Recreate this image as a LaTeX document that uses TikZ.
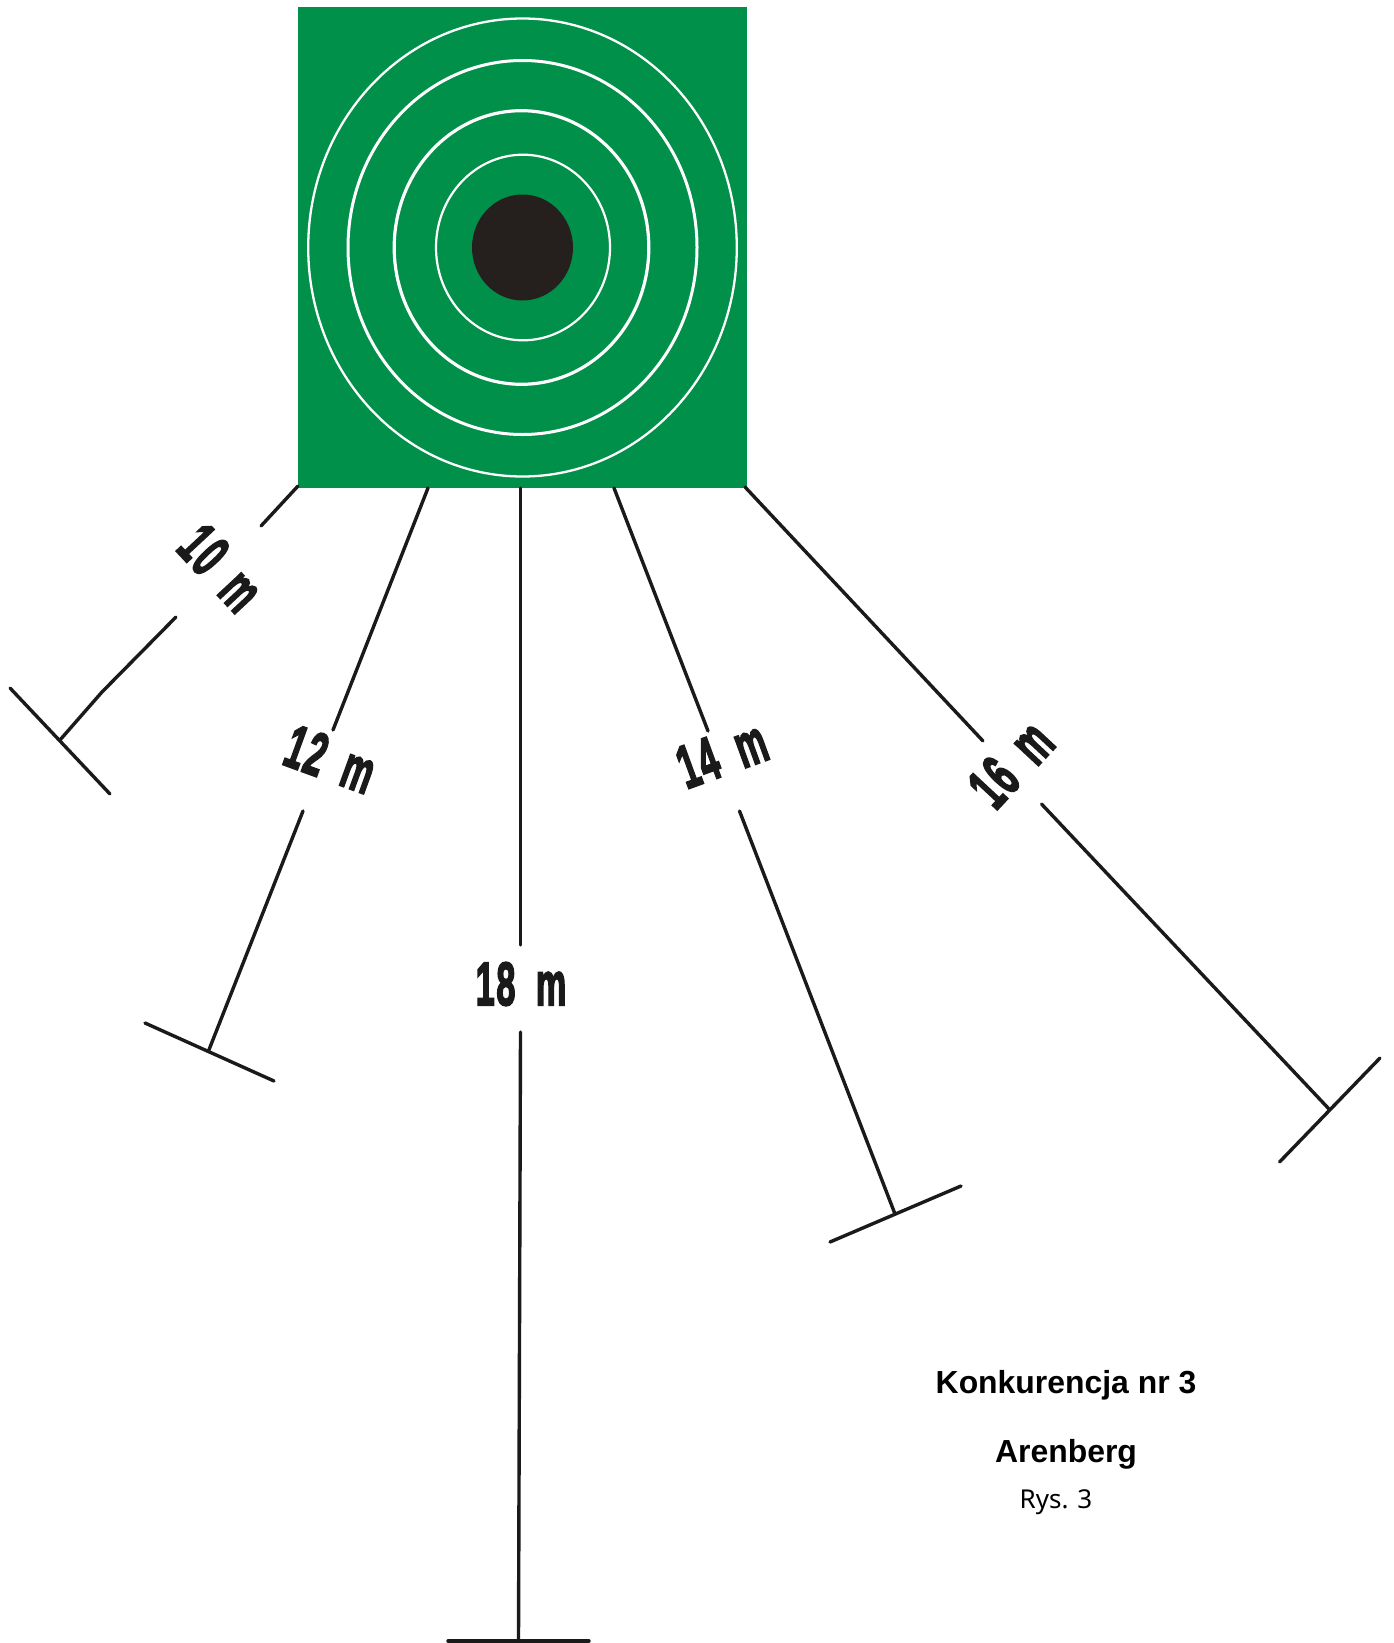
\documentclass[tikz,border=0pt]{standalone}
\usepackage{fontspec}
\setmainfont{Liberation Sans}
\newfontfamily\distfont[FakeBold=3.5]{Liberation Sans Bold}
\newfontfamily\rysfont{Noto Sans}
\definecolor{targetgreen}{HTML}{00904A}
\definecolor{inkdark}{HTML}{1A1A1B}
\definecolor{bulldark}{HTML}{25201D}
\tikzset{
  x=1pt,y=-1pt,
  lane/.style={draw=inkdark,line width=3.4pt,line cap=round,line join=round},
  ring/.style={draw=white,fill=none},
  dist/.style={text=inkdark,inner sep=0pt,font=\distfont\fontsize{61pt}{61pt}\selectfont},
  heading/.style={text=black,inner sep=0pt,anchor=base,font=\bfseries\fontsize{31.9pt}{32pt}\selectfont},
}
\begin{document}
\begin{tikzpicture}
\useasboundingbox (0,0) rectangle (1394,1643);
\fill[white] (0,0) rectangle (1394,1643);
% target
\node[fill=targetgreen,minimum width=449pt,minimum height=480pt,inner sep=0pt] (target) at (522.5,247.5) {};
\draw[ring,line width=2.3pt] (target.center) ellipse [x radius=214.3,y radius=229];
\draw[ring,line width=3pt] (target.center) ellipse [x radius=174.5,y radius=187];
\draw[ring,line width=3.2pt] ([xshift=-1pt]target.center) ellipse [x radius=127.3,y radius=136.8];
\draw[ring,line width=2.2pt] ([xshift=.5pt]target.center) ellipse [x radius=87,y radius=92.8];
\fill[bulldark] (target.center) ellipse [x radius=50.5,y radius=53];
% anchors
\coordinate (a10) at (298,486);
\coordinate (b10) at (261,526);
\coordinate (c10) at (176,617);
\coordinate (k10) at (102,692);
\coordinate (d10) at (60,740);
\coordinate (e10) at (10,688);
\coordinate (f10) at (110,794);
\coordinate (a12) at (428,488);
\coordinate (b12) at (333,730);
\coordinate (c12) at (303,811);
\coordinate (d12) at (208.5,1051);
\coordinate (e12) at (145,1023);
\coordinate (f12) at (274,1081);
\coordinate (a18) at (520.5,488);
\coordinate (b18) at (520.5,945);
\coordinate (c18) at (520.5,1032);
\coordinate (d18) at (518.5,1640);
\coordinate (e18) at (448,1641);
\coordinate (f18) at (589,1641);
\coordinate (a14) at (614,488);
\coordinate (b14) at (708,731);
\coordinate (c14) at (739.5,811);
\coordinate (d14) at (895,1214);
\coordinate (e14) at (830,1242);
\coordinate (f14) at (961,1186);
\coordinate (a16) at (745,487);
\coordinate (b16) at (983,741);
\coordinate (c16) at (1041.5,804);
\coordinate (d16) at (1329,1109);
\coordinate (e16) at (1279.5,1162);
\coordinate (f16) at (1380,1058);
% connectors
\draw[lane] (a10) -- (b10);
\draw[lane] (c10) -- (k10) -- (d10);
\draw[lane] (e10) -- (f10);
\draw[lane] (a12) -- (b12);
\draw[lane] (c12) -- (d12);
\draw[lane] (e12) -- (f12);
\draw[lane] (a18) -- (b18);
\draw[lane] (c18) -- (d18);
\draw[lane] (e18) -- (f18);
\draw[lane] (a14) -- (b14);
\draw[lane] (c14) -- (d14);
\draw[lane] (e14) -- (f14);
\draw[lane] (a16) -- (b16);
\draw[lane] (c16) -- (d16);
\draw[lane] (e16) -- (f16);
% labels
\node[dist,rotate=-47,xscale=.56] (l10) at (221,568) {1\kern.05em 0\hspace{.6em}m};
\node[dist,rotate=-20,xscale=.56] (l12) at (330.5,759) {1\kern.05em 2\hspace{.6em}m};
\node[dist,xscale=.56] (l18) at (521,984) {1\kern.05em 8\hspace{.6em}m};
\node[dist,rotate=20,xscale=.56] (l14) at (722,754) {1\kern.05em 4\hspace{.6em}m};
\node[dist,rotate=47,xscale=.56] (l16) at (1011,764) {1\kern.05em 6\hspace{.6em}m};
% caption
\node[heading] (title) at (1066,1393) {Konkurencja nr 3};
\node[heading] (name) at (1066,1462) {Arenberg};
\node[text=black,inner sep=0pt,anchor=base,font=\rysfont\fontsize{26pt}{26pt}\selectfont] (fig) at (1056,1508) {Rys. 3};
\end{tikzpicture}
\end{document}
